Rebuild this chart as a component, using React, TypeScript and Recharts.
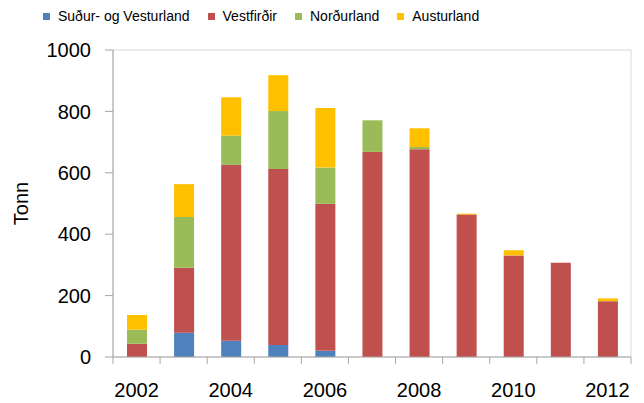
import { Bar, BarChart, Legend, ReferenceArea, XAxis, YAxis } from 'recharts';

const years = ['2002', '2003', '2004', '2005', '2006', '2007', '2008', '2009', '2010', '2011', '2012'];
const sudurVestur = [0, 79, 53, 39, 20, 0, 0, 0, 0, 0, 0];
const vestfirdir = [43, 212, 573, 573, 479, 668, 677, 464, 331, 307, 182];
const nordurland = [46, 165, 95, 189, 118, 103, 7, 0, 0, 0, 0];
const austurland = [48, 107, 125, 117, 194, 0, 61, 3, 17, 0, 9];
const yTicks = [0, 200, 400, 600, 800, 1000];

const series = [
  { key: 'sv', name: 'Suður- og Vesturland', color: '#4f81bd' },
  { key: 'vf', name: 'Vestfirðir', color: '#c0504d' },
  { key: 'nl', name: 'Norðurland', color: '#9bbb59' },
  { key: 'al', name: 'Austurland', color: '#ffc000' },
];

const data = years.map((y, i) => ({
  year: y,
  sv: sudurVestur[i],
  vf: vestfirdir[i],
  nl: nordurland[i],
  al: austurland[i],
}));

const W = 644;
const H = 403;
const LEFT = 113;
const RIGHT = 13;
const HALF_BAND = (W - LEFT - RIGHT) / years.length / 2;
const AXIS = '#a6a6a6';

function YearTick(props: any) {
  const { x, y, payload, index } = props;
  const last = index === years.length - 1;
  return (
    <g>
      <line x1={x - HALF_BAND} x2={x - HALF_BAND} y1={y} y2={y + 7} stroke={AXIS} />
      {last && <line x1={x + HALF_BAND} x2={x + HALF_BAND} y1={y} y2={y + 7} stroke={AXIS} />}
      {index % 2 === 0 && (
        <text x={x} y={y + 40} textAnchor="middle" fontSize={20} fill="#000">
          {payload.value}
        </text>
      )}
    </g>
  );
}

function TopLegend() {
  return (
    <div style={{ display: 'flex', gap: 18, fontSize: 14, color: '#000', whiteSpace: 'nowrap' }}>
      {series.map(s => (
        <div key={s.key} style={{ display: 'flex', alignItems: 'center' }}>
          <span style={{ width: 7, height: 7, background: s.color, marginRight: 8 }} />
          <span>{s.name}</span>
        </div>
      ))}
    </div>
  );
}

export default function App() {
  return (
    <div
      style={{
        position: 'absolute',
        left: 0,
        top: 0,
        width: W,
        height: H,
        background: '#fff',
        fontFamily: '"Liberation Sans", Arial, sans-serif',
      }}
    >
      <BarChart width={W} height={H} data={data} margin={{ top: 50, right: RIGHT, bottom: 0, left: 0 }}>
        <ReferenceArea y1={0} y2={1000} fill="none" stroke="#d9d9d9" ifOverflow="visible" />
        <XAxis
          dataKey="year"
          interval={0}
          height={46}
          tickLine={false}
          tickSize={0}
          tickMargin={0}
          axisLine={{ stroke: AXIS }}
          tick={<YearTick />}
        />
        <YAxis
          width={LEFT}
          domain={[0, 1000]}
          ticks={yTicks}
          tickSize={8}
          tickMargin={14}
          axisLine={{ stroke: AXIS }}
          tickLine={{ stroke: AXIS }}
          tick={{ fill: '#000', fontSize: 20 }}
          label={{
            value: 'Tonn',
            angle: -90,
            position: 'insideLeft',
            offset: 21,
            style: { textAnchor: 'middle', fontSize: 20, fill: '#000' },
          }}
        />
        <Legend
          verticalAlign="middle"
          content={<TopLegend />}
          wrapperStyle={{ top: 8, left: 43, width: 'auto', height: 'auto' }}
        />
        {series.map(s => (
          <Bar
            key={s.key}
            dataKey={s.key}
            name={s.name}
            stackId="a"
            fill={s.color}
            barSize={20}
            isAnimationActive={false}
          />
        ))}
      </BarChart>
    </div>
  );
}
